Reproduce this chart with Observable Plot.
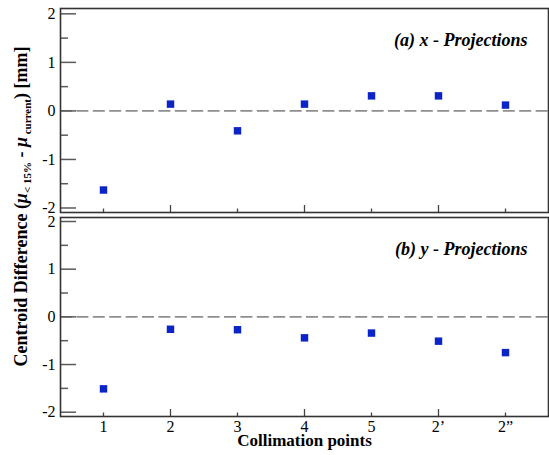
<!DOCTYPE html>
<html>
<head>
<meta charset="utf-8">
<script src="https://cdn.jsdelivr.net/npm/d3@7"></script>
<script src="https://cdn.jsdelivr.net/npm/@observablehq/plot@0.6"></script>
<style>
  body { margin: 0; background: #fff; }
  #chart { position: relative; width: 549px; height: 455px; font-family: 'Liberation Serif', 'Times New Roman', serif; }
  #chart svg { display: block; overflow: visible; }
  #chart svg text { font-family: 'Liberation Serif', 'Times New Roman', serif; }
  #ytitle { position: absolute; left: 0; top: 0; pointer-events: none; }
</style>
</head>
<body>
<div id="chart"></div>
<script>
// Collimation points along the beam line
const points = ["1", "2", "3", "4", "5", "2\u2019", "2\u201D"];

// Centroid difference (mm) for each collimation point
const xProjection = [-1.63, 0.14, -0.41, 0.14, 0.31, 0.31, 0.12];
const yProjection = [-1.51, -0.26, -0.27, -0.44, -0.34, -0.51, -0.75];

// Axis ticks
const majorY = [-2, -1, 0, 1, 2];
const minorY = [-1.5, -0.5, 0.5, 1.5];
const longX = ["2", "4", "2\u2019"];
const shortX = ["1", "3", "5", "2\u201D"];

const panelLabels = ["(a) x - Projections", "(b) y - Projections"];
const xTitle = "Collimation points";

const serif = "'Liberation Serif', 'Times New Roman', serif";

function panel({values, label, height, marginTop, marginBottom, yDomain, showX}) {
  const rows = points.map((p, i) => ({point: p, diff: values[i]}));
  return Plot.plot({
    width: 549,
    height,
    marginLeft: 60,
    marginRight: 1,
    marginTop,
    marginBottom,
    style: {fontFamily: serif, fontSize: "16px", color: "#000", background: "transparent", overflow: "visible"},
    x: {type: "point", domain: points, padding: 0.59, axis: null, label: null},
    y: {domain: yDomain, axis: null, label: null},
    marks: [
      Plot.ruleY([0], {stroke: "#8e8e8e", strokeWidth: 1.6, strokeDasharray: "12,4.4"}),
      Plot.axisY(majorY, {tickSize: -16, tickFormat: () => "", stroke: "#5a5a5a", strokeWidth: 1.5, label: null}),
      Plot.axisY(minorY, {tickSize: -8, tickFormat: () => "", stroke: "#5a5a5a", strokeWidth: 1.5, label: null}),
      Plot.axisY(majorY, {tickSize: 0, tickPadding: 5, tickFormat: d => String(d), fontSize: 16, fill: "#000", label: null}),
      Plot.axisX(longX, {tickSize: -7, tickFormat: () => "", stroke: "#444", strokeWidth: 1.3, label: null}),
      Plot.axisX(shortX, {tickSize: -3.5, tickFormat: () => "", stroke: "#444", strokeWidth: 1.3, label: null}),
      showX ? Plot.axisX(points, {tickSize: 0, tickPadding: 4, fontSize: 16, fill: "#000", label: null}) : null,
      Plot.frame({stroke: "#333", strokeWidth: 1.6}),
      Plot.dot(rows, {x: "point", y: "diff", symbol: "square", r: 4.2, fill: "#0a24c8"}),
      Plot.text([label], {frameAnchor: "top-right", textAnchor: "end", dx: -21, dy: 25,
        fontFamily: serif, fontWeight: "bold", fontStyle: "italic", fontSize: 18, fill: "#000"}),
      showX ? Plot.text([xTitle], {frameAnchor: "bottom", dy: 29, fontFamily: serif, fontWeight: "bold", fontSize: 17, fill: "#000"}) : null
    ]
  });
}

const chart = document.getElementById("chart");
chart.append(panel({values: xProjection, label: panelLabels[0], height: 214, marginTop: 8, marginBottom: 2,
  yDomain: [-2.093, 2.11], showX: false}));
chart.append(panel({values: yProjection, label: panelLabels[1], height: 241, marginTop: 3, marginBottom: 39,
  yDomain: [-2.09, 2.084], showX: true}));

// Shared y-axis title spanning both panels
const title = d3.select(chart).append("svg")
  .attr("id", "ytitle").attr("width", 549).attr("height", 455)
  .append("text")
  .attr("transform", "translate(26.5,206.5) rotate(-90)")
  .attr("text-anchor", "middle")
  .style("font-family", serif)
  .attr("font-weight", "bold")
  .attr("font-size", 18)
  .attr("fill", "#000");
title.append("tspan").text("Centroid Difference (");
title.append("tspan").attr("font-style", "italic").text("\u03BC");
title.append("tspan").attr("font-size", 11).attr("dy", 4).text("< 15%");
title.append("tspan").attr("dy", -4).text(" - ");
title.append("tspan").attr("font-style", "italic").text("\u03BC");
title.append("tspan").attr("font-size", 11).attr("dy", 4).text(" current");
title.append("tspan").attr("dy", -4).text(") [mm]");
</script>
</body>
</html>
